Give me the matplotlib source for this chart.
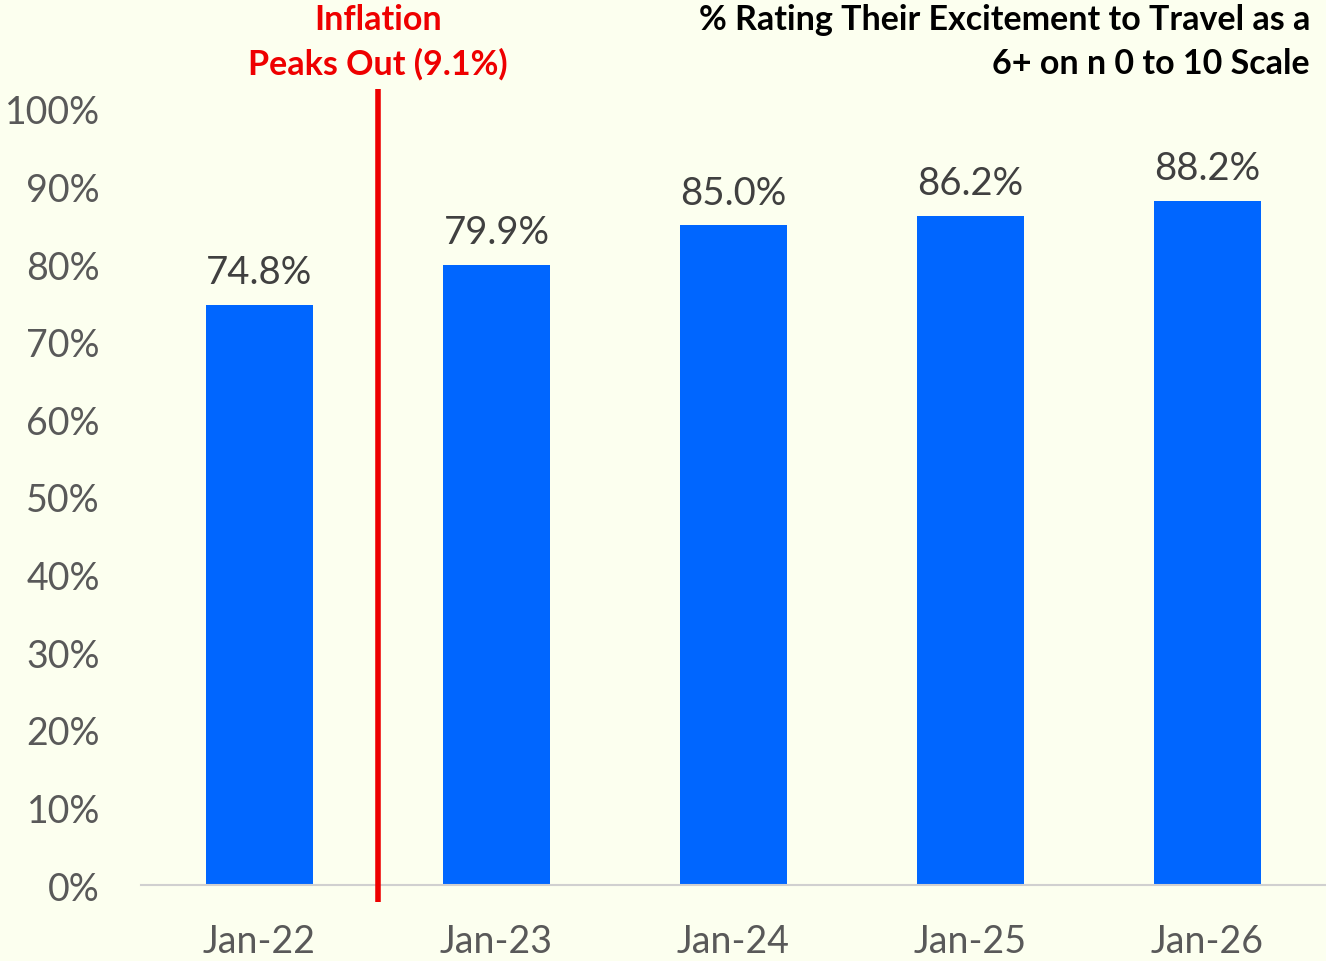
import matplotlib
matplotlib.use("Agg")
import matplotlib.pyplot as plt
from matplotlib.ticker import FuncFormatter

categories = ["Jan-22", "Jan-23", "Jan-24", "Jan-25", "Jan-26"]
values = [74.8, 79.9, 85.0, 86.2, 88.2]
yticks = [0, 10, 20, 30, 40, 50, 60, 70, 80, 90, 100]

bg = "#FCFFEF"
bar_color = "#0066FF"
grey = "#595959"

plt.rcParams['font.family'] = ['Lato', 'DejaVu Sans']

fig = plt.figure(figsize=(13.26, 9.62), dpi=100, facecolor=bg)
ax = fig.add_axes([0.1063, 0.079, 0.8937, 0.8067])
ax.set_facecolor(bg)

x = range(len(categories))
ax.bar(x, values, width=0.45, color=bar_color, zorder=2)
for i, v in enumerate(values):
    ax.text(i, v + 1.9, f"{v:.1f}%", ha="center", va="bottom",
            fontsize=27.5, color="#404040")

ax.set_xlim(-0.5, len(categories) - 0.5)
ax.set_ylim(0, 100)
ax.set_yticks(yticks)
ax.yaxis.set_major_formatter(FuncFormatter(lambda v, p: f"{v:.0f}%"))
ax.set_xticks(list(x))
ax.set_xticklabels(categories)
ax.tick_params(axis="both", length=0, labelsize=27, colors=grey)
ax.tick_params(axis="x", pad=27)
ax.tick_params(axis="y", pad=29.5)

for s in ["top", "right", "left"]:
    ax.spines[s].set_visible(False)
ax.spines["bottom"].set_color("#D0D0D0")
ax.spines["bottom"].set_linewidth(1.5)

# inflation peak marker
ax.plot([0.5, 0.5], [-2.2, 102.6], color="#EE0000", linewidth=4,
        clip_on=False, zorder=3, solid_capstyle="butt")
fig.text(0.285, 1 - 20 / 962, "Inflation", ha="center", va="center",
         fontsize=24.5, fontweight="bold", color="#EE0000")
fig.text(0.285, 1 - 64 / 962, "Peaks Out (9.1%)", ha="center", va="center",
         fontsize=24.5, fontweight="bold", color="#EE0000")

fig.text(0.988, 1 - 20 / 962, "% Rating Their Excitement to Travel as a",
         ha="right", va="center", fontsize=24.5, fontweight="bold", color="black")
fig.text(0.988, 1 - 64 / 962, "6+ on n 0 to 10 Scale",
         ha="right", va="center", fontsize=24.5, fontweight="bold", color="black")

fig.savefig("out.png", dpi=100, facecolor=bg)
